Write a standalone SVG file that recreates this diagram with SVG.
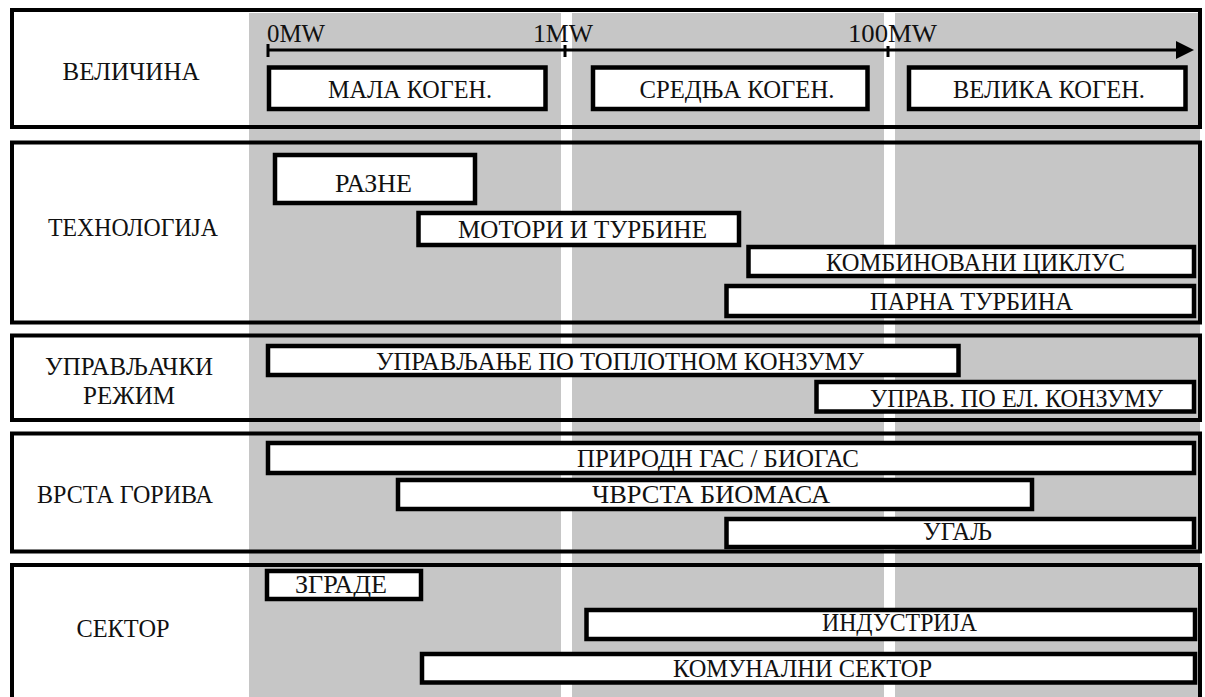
<svg xmlns="http://www.w3.org/2000/svg" width="1205" height="697" viewBox="0 0 1205 697">
<style>
.band{fill:#c6c6c6;stroke:none}
.gap{fill:#ffffff;stroke:none}
.frame{fill:none;stroke:#000;stroke-width:4}
.bar{fill:#fff;stroke:#000;stroke-width:4.5}
.t{font-family:"Liberation Serif","Times New Roman",serif;font-size:26px;fill:#111;text-anchor:middle}
.ax{font-family:"Liberation Serif","Times New Roman",serif;font-size:26px;fill:#111;text-anchor:start}
.axis{stroke:#000;stroke-width:3;fill:none}
</style>
<defs>
<marker id="arrow" viewBox="0 0 18 18" refX="0" refY="9" markerWidth="18" markerHeight="18" markerUnits="userSpaceOnUse" orient="auto">
<path d="M0,0 L18,9 L0,18 z" fill="#000"/>
</marker>
</defs>
<rect width="1205" height="697" fill="#fff"/>
<g id="background">
<rect class="band" x="249" y="13" width="951" height="684"/>
<rect class="gap" x="561" y="13" width="11" height="684"/>
<rect class="gap" x="884" y="13" width="11" height="684"/>
</g>
<g id="sections">
<rect class="frame" x="12" y="10" width="1188" height="117"/>
<rect class="frame" x="12" y="142.5" width="1188" height="180"/>
<rect class="frame" x="12" y="335.5" width="1188" height="84.5"/>
<rect class="frame" x="12" y="433.5" width="1188" height="118"/>
<rect class="frame" x="12" y="565" width="1188" height="140"/>
</g>
<g id="labels">
<text class="t" x="131" y="80" textLength="137" lengthAdjust="spacingAndGlyphs">ВЕЛИЧИНА</text>
<text class="t" x="133" y="236" textLength="170" lengthAdjust="spacingAndGlyphs">ТЕХНОЛОГИЈА</text>
<text class="t" x="129" y="375" style="font-size:25px" textLength="168" lengthAdjust="spacingAndGlyphs">УПРАВЉАЧКИ</text>
<text class="t" x="129" y="404" style="font-size:25px" textLength="92" lengthAdjust="spacingAndGlyphs">РЕЖИМ</text>
<text class="t" x="125" y="503" textLength="176" lengthAdjust="spacingAndGlyphs">ВРСТА ГОРИВА</text>
<text class="t" x="123" y="637" textLength="93" lengthAdjust="spacingAndGlyphs">СЕКТОР</text>
</g>
<g id="connectors">
<line class="axis" x1="268" y1="50" x2="1176" y2="50" marker-end="url(#arrow)"/>
<line class="axis" x1="268" y1="44" x2="268" y2="57"/>
<line class="axis" x1="565" y1="45" x2="565" y2="57"/>
<line class="axis" x1="888" y1="46" x2="888" y2="57"/>
</g>
<g id="axis-labels">
<text class="ax" x="267" y="42" textLength="58" lengthAdjust="spacingAndGlyphs">0MW</text>
<text class="ax" x="533" y="42" textLength="60" lengthAdjust="spacingAndGlyphs">1MW</text>
<text class="ax" x="848" y="42" textLength="89" lengthAdjust="spacingAndGlyphs">100MW</text>
</g>
<g id="mala"><rect class="bar" x="269" y="67.5" width="276.5" height="41.5"/><text class="t" x="410" y="98" textLength="164" lengthAdjust="spacingAndGlyphs">МАЛА КОГЕН.</text></g>
<g id="srednja"><rect class="bar" x="593" y="67.5" width="274.5" height="41.5"/><text class="t" x="737" y="98" textLength="195" lengthAdjust="spacingAndGlyphs">СРЕДЊА КОГЕН.</text></g>
<g id="velika"><rect class="bar" x="909" y="67.5" width="276.5" height="41.5"/><text class="t" x="1049" y="98" textLength="192" lengthAdjust="spacingAndGlyphs">ВЕЛИКА КОГЕН.</text></g>
<g id="razne"><rect class="bar" x="275" y="155" width="200" height="48"/><text class="t" x="373.5" y="192" textLength="77" lengthAdjust="spacingAndGlyphs">РАЗНЕ</text></g>
<g id="motori"><rect class="bar" x="418.5" y="213" width="320.5" height="32"/><text class="t" x="582.5" y="238" textLength="249" lengthAdjust="spacingAndGlyphs">МОТОРИ И ТУРБИНЕ</text></g>
<g id="kombinovani"><rect class="bar" x="748.5" y="247" width="445.5" height="29"/><text class="t" x="975.5" y="271" textLength="299" lengthAdjust="spacingAndGlyphs">КОМБИНОВАНИ ЦИКЛУС</text></g>
<g id="parna"><rect class="bar" x="726.5" y="286" width="467.5" height="30"/><text class="t" x="971.5" y="310" textLength="203" lengthAdjust="spacingAndGlyphs">ПАРНА ТУРБИНА</text></g>
<g id="toplotni"><rect class="bar" x="268" y="346" width="690.5" height="29"/><text class="t" x="620" y="370" textLength="488" lengthAdjust="spacingAndGlyphs">УПРАВЉАЊЕ ПО ТОПЛОТНОМ КОНЗУМУ</text></g>
<g id="elektricni"><rect class="bar" x="816.5" y="382" width="377.5" height="29.5"/><text class="t" x="1016.5" y="407" textLength="293" lengthAdjust="spacingAndGlyphs">УПРАВ. ПО ЕЛ. КОНЗУМУ</text></g>
<g id="gas"><rect class="bar" x="268" y="443" width="926" height="30"/><text class="t" x="718" y="467" textLength="282" lengthAdjust="spacingAndGlyphs">ПРИРОДН ГАС / БИОГАС</text></g>
<g id="biomasa"><rect class="bar" x="398" y="480" width="634" height="29"/><text class="t" x="711" y="503" textLength="238" lengthAdjust="spacingAndGlyphs">ЧВРСТА БИОМАСА</text></g>
<g id="ugalj"><rect class="bar" x="726.5" y="519" width="467.5" height="28"/><text class="t" x="957.5" y="540" textLength="69" lengthAdjust="spacingAndGlyphs">УГАЉ</text></g>
<g id="zgrade"><rect class="bar" x="267" y="571" width="154" height="28"/><text class="t" x="341" y="593" textLength="92" lengthAdjust="spacingAndGlyphs">ЗГРАДЕ</text></g>
<g id="industrija"><rect class="bar" x="586.5" y="610" width="608.5" height="29"/><text class="t" x="899.5" y="631" textLength="155" lengthAdjust="spacingAndGlyphs">ИНДУСТРИЈА</text></g>
<g id="komunalni"><rect class="bar" x="422" y="654" width="773" height="28.5"/><text class="t" x="802.5" y="677" textLength="259" lengthAdjust="spacingAndGlyphs">КОМУНАЛНИ СЕКТОР</text></g>
</svg>
